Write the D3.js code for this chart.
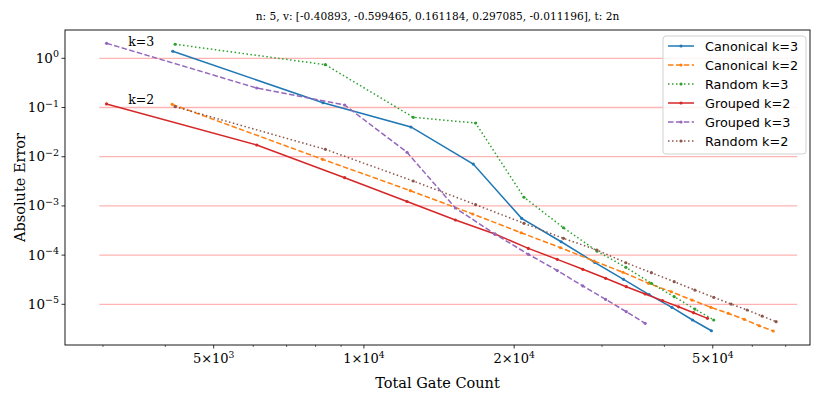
<!DOCTYPE html>
<html><head><meta charset="utf-8">
<script src="https://cdn.jsdelivr.net/npm/d3@7"></script>
<style>body{margin:0;background:#fff} svg{display:block}</style>
</head><body><svg id="c" width="830" height="399"></svg>
<script>
// ---------- data ----------
const titleText = "n: 5, v: [-0.40893, -0.599465, 0.161184, 0.297085, -0.011196], t: 2n";
const xLabelText = "Total Gate Count";
const yLabelText = "Absolute Error";

const seriesNames = ["Canonical k=3", "Canonical k=2", "Random k=3", "Grouped k=2", "Grouped k=3", "Random k=2"];
const seriesColors = ["#1f77b4", "#ff7f0e", "#2ca02c", "#d62728", "#9467bd", "#8c564b"];
const seriesDash = ["", "5.5,2.4", "1.5,2.5", "", "5.5,2.4", "1.5,2.5"];

const canonicalK3Gates = [4140, 8280, 12420, 16560, 20700, 24840, 28980, 33120, 37260, 41400, 45540, 49680];
const canonicalK3Err = [1.39, 0.125, 0.0402, 7.1e-3, 5.6e-4, 1.87e-4, 7.14e-5, 3.22e-5, 1.58e-5, 8.69e-6, 4.8e-6, 2.9e-6];

const canonicalK2Gates = [4130, 8260, 12390, 16520, 20650, 24780, 28910, 33040, 37170, 41300, 45430, 49560, 53690, 57820, 61950, 66080];
const canonicalK2Err = [0.116, 8.86e-3, 2.04e-3, 6.85e-4, 2.85e-4, 1.41e-4, 7.58e-5, 4.49e-5, 2.67e-5, 1.80e-5, 1.22e-5, 8.69e-6, 6.56e-6, 4.95e-6, 3.67e-6, 2.87e-6];

const randomK3Gates = [4185, 8370, 12555, 16740, 20925, 25110, 29295, 33480, 37665, 41850, 46035, 50220];
const randomK3Err = [1.93, 0.741, 0.0632, 0.0484, 1.50e-3, 3.6e-4, 1.21e-4, 5.65e-5, 2.67e-5, 1.43e-5, 8.0e-6, 4.8e-6];

const groupedK2Gates = [3050, 6100, 9150, 12200, 15250, 18300, 21350, 24400, 27450, 30500, 33550, 36600, 39650, 42700, 45750, 48800];
const groupedK2Err = [0.118, 0.0173, 3.74e-3, 1.23e-3, 5.17e-4, 2.68e-4, 1.37e-4, 8.2e-5, 5.15e-5, 3.38e-5, 2.28e-5, 1.62e-5, 1.19e-5, 8.9e-6, 6.75e-6, 5.19e-6];

const groupedK3Gates = [3050, 6100, 9150, 12200, 15250, 18300, 21350, 24400, 27450, 30500, 33550, 36600];
const groupedK3Err = [2.02, 0.249, 0.1124, 0.01229, 9.06e-4, 2.68e-4, 1.04e-4, 4.86e-5, 2.36e-5, 1.26e-5, 7.08e-6, 4.11e-6];

const randomK2Gates = [4185, 8370, 12555, 16740, 20925, 25110, 29295, 33480, 37665, 41850, 46035, 50220, 54405, 58590, 62775, 66960];
const randomK2Err = [0.104, 0.0141, 3.21e-3, 1.06e-3, 4.43e-4, 2.19e-4, 1.27e-4, 7.0e-5, 4.39e-5, 2.88e-5, 1.95e-5, 1.39e-5, 1.01e-5, 7.66e-6, 5.78e-6, 4.43e-6];

const seriesGates = [canonicalK3Gates, canonicalK2Gates, randomK3Gates, groupedK2Gates, groupedK3Gates, randomK2Gates];
const seriesErr = [canonicalK3Err, canonicalK2Err, randomK3Err, groupedK2Err, groupedK3Err, randomK2Err];

const refLineLevels = [1, 1e-1, 1e-2, 1e-3, 1e-4, 1e-5];
const refLineSpan = [2950, 73800];

const annotTexts = ["k=3", "k=2"];
const annotPos = [[3580, 1.78], [3580, 0.118]];

const xTickValues = [5000, 10000, 20000, 50000];
const xTickMantissa = ["5×10", "1×10", "2×10", "5×10"];
const xTickExp = ["3", "4", "4", "4"];
const xMinorTicks = [3000, 4000, 6000, 7000, 8000, 9000, 30000, 40000, 60000, 70000];

const yTickValues = [1, 1e-1, 1e-2, 1e-3, 1e-4, 1e-5];
const yTickExp = ["0", "−1", "−2", "−3", "−4", "−5"];

// ---------- layout ----------
const svg = d3.select("#c");
const L = 65, R = 810, T = 30, B = 345;
const x = d3.scaleLog().domain([2518, 78300]).range([L, R]);
const y = d3.scaleLog().domain([1.49e-6, 3.76]).range([B, T]);
const serif = "DejaVu Serif";

// reference lines
svg.append("g").selectAll("line").data(refLineLevels).join("line")
  .attr("x1", x(refLineSpan[0])).attr("x2", x(refLineSpan[1]))
  .attr("y1", d => y(d)).attr("y2", d => y(d))
  .attr("stroke", "#ffb3b3").attr("stroke-width", 1.3);

// series
const line = d3.line().x(d => x(d[0])).y(d => y(d[1]));
seriesNames.forEach((name, i) => {
  const pts = seriesGates[i].map((g, j) => [g, seriesErr[i][j]]);
  const g = svg.append("g");
  g.append("path").datum(pts).attr("d", line)
    .attr("fill", "none").attr("stroke", seriesColors[i]).attr("stroke-width", 1.5)
    .attr("stroke-dasharray", seriesDash[i] || null);
  g.selectAll("circle").data(pts).join("circle")
    .attr("cx", d => x(d[0])).attr("cy", d => y(d[1])).attr("r", 1.6)
    .attr("fill", seriesColors[i]);
});

// annotations
svg.append("g").selectAll("text").data(annotTexts).join("text")
  .attr("x", (d, i) => x(annotPos[i][0])).attr("y", (d, i) => y(annotPos[i][1]))
  .attr("text-anchor", "middle").attr("font-family", serif).attr("font-size", 12.5)
  .text(d => d);

// frame
svg.append("rect").attr("x", L).attr("y", T).attr("width", R - L).attr("height", B - T)
  .attr("fill", "none").attr("stroke", "#000").attr("stroke-width", 0.9);

// x ticks
const xg = svg.append("g");
xg.selectAll("line.maj").data(xTickValues).join("line").attr("class", "maj")
  .attr("x1", d => x(d)).attr("x2", d => x(d)).attr("y1", B).attr("y2", B + 3.5)
  .attr("stroke", "#000").attr("stroke-width", 0.8);
xg.selectAll("line.min").data(xMinorTicks).join("line").attr("class", "min")
  .attr("x1", d => x(d)).attr("x2", d => x(d)).attr("y1", B).attr("y2", B + 2)
  .attr("stroke", "#000").attr("stroke-width", 0.6);
const xt = xg.selectAll("text").data(xTickValues).join("text")
  .attr("x", d => x(d)).attr("y", B + 18).attr("text-anchor", "middle")
  .attr("font-family", serif).attr("font-size", 13);
xt.append("tspan").text((d, i) => xTickMantissa[i]);
xt.append("tspan").attr("dy", -5).attr("font-size", 9.2).text((d, i) => xTickExp[i]);

// y ticks
const yg = svg.append("g");
yg.selectAll("line").data(yTickValues).join("line")
  .attr("x1", L - 3.5).attr("x2", L).attr("y1", d => y(d)).attr("y2", d => y(d))
  .attr("stroke", "#000").attr("stroke-width", 0.8);
const yt = yg.selectAll("text").data(yTickValues).join("text")
  .attr("x", L - 6).attr("y", d => y(d) + 4.5).attr("text-anchor", "end")
  .attr("font-family", serif).attr("font-size", 13.5);
yt.append("tspan").text("10");
yt.append("tspan").attr("dy", -5.5).attr("font-size", 9.5).text((d, i) => yTickExp[i]);

// axis labels + title
svg.append("text").attr("x", (L + R) / 2).attr("y", 388).attr("text-anchor", "middle")
  .attr("font-family", serif).attr("font-size", 14.5).text(xLabelText);
svg.append("text").attr("transform", `translate(25,${(T + B) / 2}) rotate(-90)`)
  .attr("text-anchor", "middle").attr("font-family", serif).attr("font-size", 14.5).text(yLabelText);
svg.append("text").attr("x", (L + R) / 2).attr("y", 20).attr("text-anchor", "middle")
  .attr("font-family", serif).attr("font-size", 10.6).text(titleText);

// legend
const lg = svg.append("g").attr("transform", "translate(663,36)");
lg.append("rect").attr("width", 143).attr("height", 118).attr("rx", 3)
  .attr("fill", "#fff").attr("fill-opacity", 0.85).attr("stroke", "#ccc").attr("stroke-width", 0.9);
seriesNames.forEach((name, i) => {
  const yy = 10 + i * 19;
  lg.append("line").attr("x1", 5).attr("x2", 31).attr("y1", yy).attr("y2", yy)
    .attr("stroke", seriesColors[i]).attr("stroke-width", 1.5)
    .attr("stroke-dasharray", seriesDash[i] || null);
  lg.append("circle").attr("cx", 18).attr("cy", yy).attr("r", 1.6).attr("fill", seriesColors[i]);
  lg.append("text").attr("x", 42).attr("y", yy + 4.5).attr("font-family", "DejaVu Sans")
    .attr("font-size", 12.8).text(name);
});
</script></body></html>
